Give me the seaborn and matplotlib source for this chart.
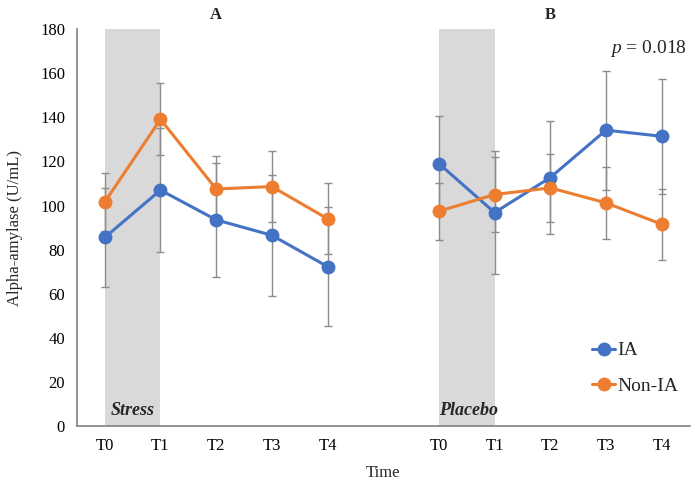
import pandas as pd
import numpy as np
import matplotlib
matplotlib.use("Agg")
import matplotlib.pyplot as plt
import seaborn as sns
from matplotlib.lines import Line2D

# time points and the two sessions (stress = A, placebo = B)
times = ["T0", "T1", "T2", "T3", "T4"]
sessions = ["Stress", "Placebo"]

# means
ia_stress = [85.5, 107.0, 93.5, 86.5, 72.3]
ia_placebo = [119.0, 96.8, 112.7, 134.2, 131.4]
nonia_stress = [101.6, 139.1, 107.5, 108.6, 94.0]
nonia_placebo = [97.4, 105.0, 108.0, 101.2, 91.5]

# error bar half-widths
ia_stress_err = [22.3, 28.0, 26.0, 27.5, 27.0]
ia_placebo_err = [21.5, 28.0, 25.5, 27.0, 26.0]
nonia_stress_err = [13.0, 16.4, 15.0, 16.2, 16.0]
nonia_placebo_err = [13.0, 17.0, 15.3, 16.5, 16.0]

blue = "#4472C4"
orange = "#ED7D31"

# category positions on one axis: 0-4 for stress, 6-10 for placebo (one blank slot)
pos_stress = list(range(5))
pos_placebo = [p + 6 for p in range(5)]

rows = []
for grp, vals_s, vals_p, err_s, err_p in [
    ("IA", ia_stress, ia_placebo, ia_stress_err, ia_placebo_err),
    ("Non-IA", nonia_stress, nonia_placebo, nonia_stress_err, nonia_placebo_err),
]:
    for i in range(5):
        rows.append({"pos": pos_stress[i], "value": vals_s[i], "err": err_s[i], "group": grp, "session": "Stress"})
        rows.append({"pos": pos_placebo[i], "value": vals_p[i], "err": err_p[i], "group": grp, "session": "Placebo"})
df = pd.DataFrame(rows)

sns.set_style("white")
plt.rcParams["font.family"] = ["Liberation Serif", "DejaVu Serif"]
plt.rcParams["mathtext.fontset"] = "custom"
plt.rcParams["mathtext.it"] = "Liberation Serif:italic"
plt.rcParams["mathtext.rm"] = "Liberation Serif"

fig = plt.figure(figsize=(6.93, 4.86), dpi=100)
ax = fig.add_axes([0.111, 0.1235, 0.884, 0.8165])

# grey shading between T0 and T1 for each session
ax.axvspan(0, 1, color="#D9D9D9", zorder=0, lw=0)
ax.axvspan(6, 7, color="#D9D9D9", zorder=0, lw=0)

# error bars
for grp in ["IA", "Non-IA"]:
    sub = df[df["group"] == grp]
    ax.errorbar(sub["pos"], sub["value"], yerr=sub["err"], fmt="none",
                ecolor="#8C8C8C", elinewidth=1.0, capsize=3, capthick=1.0, zorder=2)

sns.lineplot(data=df, x="pos", y="value", hue="group", units="session", estimator=None,
             palette={"IA": blue, "Non-IA": orange}, marker="o", markersize=10,
             markeredgewidth=0, linewidth=2.2, sort=True, ax=ax, zorder=3, legend=False)

ax.set_xlim(-0.5, 10.5)
ax.set_ylim(0, 180)
ax.set_yticks(np.arange(0, 181, 20))
ax.set_xticks(pos_stress + pos_placebo)
ax.set_xticklabels(times + times)
ax.tick_params(axis="both", labelsize=12, colors="black", direction="out", length=5, width=1)
ax.tick_params(axis="both", color="#808080")
for s in ["top", "right"]:
    ax.spines[s].set_visible(False)
for s in ["left", "bottom"]:
    ax.spines[s].set_color("#808080")
    ax.spines[s].set_linewidth(1.2)

ax.set_xlabel("Time", fontsize=12, labelpad=8)
ax.set_ylabel("Alpha-amylase (U/mL)", fontsize=12, labelpad=12)

# panel labels
ax.text(2, 183, "A", fontsize=12, fontweight="bold", ha="center", va="bottom")
ax.text(8, 183, "B", fontsize=12, fontweight="bold", ha="center", va="bottom")
ax.text(0.1, 3, "Stress", fontsize=13, fontweight="bold", style="italic", ha="left", va="bottom")
ax.text(6.0, 3, "Placebo", fontsize=13, fontweight="bold", style="italic", ha="left", va="bottom")
ax.text(10.45, 176, r"$p$ = 0.018", fontsize=14, ha="right", va="top")

# legend
handles = [Line2D([], [], color=blue, marker="o", markersize=9, lw=2.2),
           Line2D([], [], color=orange, marker="o", markersize=9, lw=2.2)]
ax.legend(handles, ["IA", "Non-IA"], loc="lower right", bbox_to_anchor=(1.01, 0.035),
          frameon=False, fontsize=14, handlelength=1.2, handletextpad=0.1, labelspacing=0.9)

fig.savefig("out.png", dpi=100)
